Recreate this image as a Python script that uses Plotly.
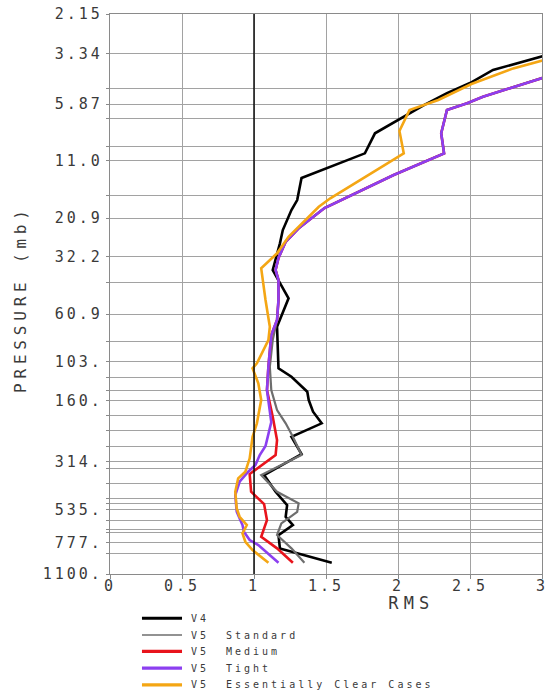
import math
import plotly.graph_objects as go

# RMS profiles versus pressure level (mb)
v4_rms = [3.03, 2.80, 2.66, 2.50, 2.34, 2.18, 2.01, 1.84, 1.77, 1.33,
          1.30, 1.26, 1.20, 1.18, 1.13, 1.24, 1.16, 1.17, 1.26, 1.37,
          1.38, 1.41, 1.47, 1.26, 1.33, 1.07, 1.15, 1.23, 1.22, 1.27,
          1.17, 1.18, 1.54]
v4_p = [3.40, 3.77, 4.01, 4.64, 5.20, 5.93, 6.92, 8.12, 10.15, 13.36,
        17.08, 19.08, 23.85, 27.66, 37.23, 51.0, 70.0, 111.3, 122.2, 144.4,
        158.5, 180.5, 205.4, 238.5, 289.1, 365.4, 440.0, 510.5, 581.4, 637.7,
        712.9, 826.9, 970.5]

std_rms = [3.03, 2.80, 2.59, 2.48, 2.34, 2.30, 2.32, 1.97, 1.74, 1.49,
           1.31, 1.22, 1.17, 1.15, 1.17, 1.17, 1.16, 1.13, 1.11, 1.12,
           1.16, 1.22, 1.27, 1.33, 1.05, 1.16, 1.31, 1.30, 1.19, 1.16,
           1.26, 1.35]
std_p = [4.32, 4.86, 5.40, 5.81, 6.26, 8.12, 10.15, 12.92, 15.36, 18.66,
         23.40, 27.17, 32.58, 37.23, 41.63, 52.0, 65.0, 81.2, 109.3, 141.8,
         177.1, 205.4, 238.5, 292.4, 365.4, 440.0, 500.7, 550.0, 625.8, 712.9,
         826.9, 970.5]

med_rms = [3.03, 2.80, 2.59, 2.48, 2.34, 2.30, 2.32, 1.97, 1.74, 1.49,
           1.31, 1.22, 1.17, 1.15, 1.17, 1.17, 1.16, 1.12, 1.10, 1.09,
           1.13, 1.16, 1.15, 0.97, 0.98, 1.07, 1.09, 1.05, 1.16, 1.27]
med_p = [4.32, 4.86, 5.40, 5.81, 6.26, 8.12, 10.15, 12.92, 15.36, 18.66,
         23.40, 27.17, 32.58, 37.23, 41.63, 52.0, 65.0, 76.8, 109.3, 141.8,
         190.9, 247.5, 292.4, 361.4, 440.0, 504.7, 603.3, 726.5, 826.9, 970.5]

tight_rms = [3.03, 2.80, 2.59, 2.48, 2.34, 2.30, 2.32, 1.97, 1.74, 1.49,
             1.31, 1.22, 1.17, 1.15, 1.17, 1.17, 1.16, 1.12, 1.10, 1.09,
             1.12, 1.08, 1.04, 1.01, 0.96, 0.90, 0.87, 0.88, 0.92, 0.93,
             0.97, 1.03, 1.17]
tight_p = [4.32, 4.86, 5.40, 5.81, 6.26, 8.12, 10.15, 12.92, 15.36, 18.66,
           23.40, 27.17, 32.58, 37.23, 41.63, 52.0, 65.0, 76.8, 109.3, 141.8,
           202.5, 264.5, 292.4, 326.8, 352.2, 393.6, 456.5, 550.0, 637.7, 687.1,
           753.9, 797.0, 970.5]

clear_rms = [3.03, 2.80, 2.51, 2.28, 2.08, 2.01, 2.04, 1.81, 1.53, 1.45,
             1.37, 1.24, 1.16, 1.05, 1.08, 1.11, 1.10, 1.02, 0.99, 1.03,
             1.05, 1.04, 1.02, 0.99, 0.98, 0.97, 0.94, 0.89, 0.87, 0.88,
             0.90, 0.95, 0.92, 0.94, 0.99, 1.10]
clear_p = [3.57, 3.94, 4.69, 5.60, 6.26, 7.91, 10.15, 12.68, 16.75, 18.40,
           20.94, 25.70, 30.91, 36.53, 52.0, 70.0, 81.2, 105.3, 111.3, 131.6,
           158.5, 170.7, 205.4, 238.5, 276.6, 303.3, 352.2, 379.0, 440.0, 529.5,
           581.4, 637.7, 699.6, 768.3, 842.7, 970.5]

series_version = ["V4", "V5", "V5", "V5", "V5"]
series_desc = ["", "Standard", "Medium", "Tight", "Essentially Clear Cases"]

# pressure levels drawn as horizontal grid lines, and the labelled subset
grid_p = [2.15, 3.34, 4.92, 5.87, 6.92, 9.43, 11.0, 16.3, 20.9, 32.2, 42.7,
          60.9, 82.8, 103, 123.6, 141.8, 160, 188.7, 222.9, 266.6, 314, 339,
          400.6, 473, 500.7, 535, 603, 669, 689, 777, 874, 1100]
label_p = {2.15: "2.15", 3.34: "3.34", 5.87: "5.87", 11.0: "11.0", 20.9: "20.9",
           32.2: "32.2", 60.9: "60.9", 103: "103.", 160: "160.", 314: "314.",
           535: "535.", 777: "777.", 1100: "1100."}

x_ticks = [0, 0.5, 1, 1.5, 2, 2.5, 3]
x_labels = ["0", "0.5", "1", "1.5", "2", "2.5", "3"]

colors = ["#000000", "#6e6e6e", "#e8141c", "#8c3ff0", "#f4a614"]
widths = [2.6, 2.2, 2.6, 2.6, 2.6]
legend_widths = [3.2, 1.4, 3.2, 3.2, 3.2]
data = [(v4_rms, v4_p), (std_rms, std_p), (med_rms, med_p),
        (tight_rms, tight_p), (clear_rms, clear_p)]

MONO = "DejaVu Sans Mono"
TXT = "#3a3a3a"

fig = go.Figure()
for (r, p), c, w, ver, desc in zip(data, colors, widths, series_version, series_desc):
    fig.add_trace(go.Scatter(
        x=r, y=p, mode="lines", name=(ver + " " + desc).strip(),
        line=dict(color=c, width=w), showlegend=False, hoverinfo="skip"))

grid_col = "#a2a2a2"
fig.update_layout(
    width=546, height=696,
    margin=dict(l=110, r=4, t=14, b=122, autoexpand=False),
    paper_bgcolor="white", plot_bgcolor="white",
    xaxis=dict(range=[0, 3], tickvals=x_ticks, ticktext=x_labels,
               showgrid=True, gridcolor=grid_col, gridwidth=1.2,
               showline=True, linecolor="#8a8a8a", linewidth=1.2, mirror=True,
               ticks="outside", ticklen=4, tickcolor="#8a8a8a",
               zeroline=False, ticklabeloverflow="allow", automargin=False,
               ticklabelstandoff=-6,
               tickfont=dict(family=MONO, size=15, color=TXT)),
    yaxis=dict(type="log", range=[math.log10(1100), math.log10(2.15)],
               tickvals=grid_p,
               ticktext=[label_p.get(v, "") for v in grid_p],
               showgrid=True, gridcolor=grid_col, gridwidth=1.2,
               showline=True, linecolor="#8a8a8a", linewidth=1.2, mirror=True,
               ticks="outside", ticklen=3, tickcolor="#8a8a8a",
               zeroline=False, ticklabeloverflow="allow", automargin=False,
               tickfont=dict(family=MONO, size=15, color=TXT)),
)

# reference line at RMS = 1
fig.add_shape(type="line", xref="x", yref="paper", x0=1, x1=1, y0=0, y1=1,
              line=dict(color="black", width=1.4), layer="above")

# axis titles
fig.add_annotation(text="RMS", xref="paper", yref="paper", x=0.697, y=-0.051,
                   xanchor="center", yanchor="middle", showarrow=False,
                   font=dict(family=MONO, size=17, color=TXT))
fig.add_annotation(text="PRESSURE (mb)", xref="paper", yref="paper",
                   x=-0.208, y=0.49, xanchor="center", yanchor="middle",
                   textangle=-90, showarrow=False,
                   font=dict(family=MONO, size=16, color=TXT))

# legend block below the axes
row_y = [-0.079, -0.109, -0.138, -0.168, -0.198]
for c, lw, ver, desc, yy in zip(colors, legend_widths, series_version, series_desc, row_y):
    fig.add_shape(type="line", xref="paper", yref="paper",
                  x0=0.074, x1=0.1667, y0=yy, y1=yy,
                  line=dict(color=c, width=lw))
    fig.add_annotation(text=ver, xref="paper", yref="paper", x=0.183, y=yy,
                       xanchor="left", yanchor="middle", showarrow=False,
                       font=dict(family=MONO, size=10, color=TXT))
    if desc:
        fig.add_annotation(text=desc, xref="paper", yref="paper", x=0.264, y=yy,
                           xanchor="left", yanchor="middle", showarrow=False,
                           font=dict(family=MONO, size=10, color=TXT))

# widen the letter spacing of the labels; left-anchored legend labels are
# shifted so that they keep their left edge
spacing_js = """
var st = document.createElement('style');
st.textContent = '.xtick text, .ytick text {letter-spacing: 3px;}';
document.head.appendChild(st);
document.querySelectorAll('.annotation-text').forEach(function (t) {
  var fs = parseFloat(t.style.fontSize) || 12;
  var w0 = t.getComputedTextLength();
  t.style.letterSpacing = (fs * 0.3) + 'px';
  var w1 = t.getComputedTextLength();
  if (fs < 12) {
    t.setAttribute('transform', 'translate(' + ((w1 - w0) / 2) + ',0)');
  }
});
"""

fig.write_html("out.html", post_script=spacing_js)
